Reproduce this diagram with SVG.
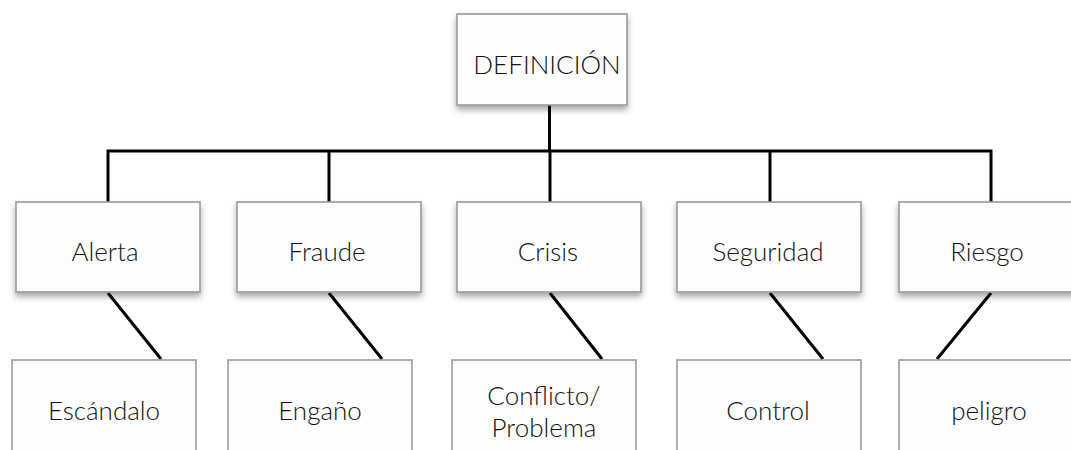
<svg xmlns="http://www.w3.org/2000/svg" width="1071" height="450" viewBox="0 0 1071 450">
<style>
.box{fill:#fdfdfd;stroke:#999;stroke-width:1.6}
.sh{filter:url(#ds)}
.t{font-family:Lato,"Liberation Sans",sans-serif;font-size:26px;font-weight:300;fill:#111;text-anchor:middle}
.c{stroke:#000;stroke-width:3;fill:none;stroke-linecap:square}
</style>
<defs>
<filter id="ds" x="-10%" y="-10%" width="120%" height="130%">
<feDropShadow dx="0" dy="4" stdDeviation="3" flood-color="#000" flood-opacity="0.35"/>
</filter>
</defs>
<g id="connectors">
<path class="c" d="M549.5 106V151M108 151H991M108 151V201M329 151V201M550 151V201M770 151V201M991 151V201"/>
<path class="c" d="M108 293L161 359M329 293L382 359M550 293L602 359M770 293L823 359M991 293L937 359" style="stroke-linecap:butt"/>
</g>
<g id="n-definicion"><rect class="box sh" x="457" y="14" width="170" height="91"/><text class="t" x="547" y="74">DEFINICIÓN</text></g>
<g id="n-alerta"><rect class="box sh" x="16" y="202" width="184" height="90"/><text class="t" x="105" y="261">Alerta</text></g>
<g id="n-fraude"><rect class="box sh" x="237" y="202" width="184" height="90"/><text class="t" x="327" y="261">Fraude</text></g>
<g id="n-crisis"><rect class="box sh" x="457" y="202" width="184" height="90"/><text class="t" x="548" y="261">Crisis</text></g>
<g id="n-seguridad"><rect class="box sh" x="677" y="202" width="184" height="90"/><text class="t" x="768" y="261">Seguridad</text></g>
<g id="n-riesgo"><rect class="box sh" x="899" y="202" width="184" height="90"/><text class="t" x="987" y="261">Riesgo</text></g>
<g id="n-escandalo"><rect class="box" x="12" y="360" width="184" height="100"/><text class="t" x="104" y="420">Escándalo</text></g>
<g id="n-engano"><rect class="box" x="228" y="360" width="184" height="100"/><text class="t" x="320" y="420">Engaño</text></g>
<g id="n-conflicto"><rect class="box" x="452" y="360" width="184" height="100"/><text class="t" x="544" y="405">Conflicto/</text><text class="t" x="544" y="437">Problema</text></g>
<g id="n-control"><rect class="box" x="677" y="360" width="184" height="100"/><text class="t" x="768" y="420">Control</text></g>
<g id="n-peligro"><rect class="box" x="899" y="360" width="184" height="100"/><text class="t" x="989" y="420">peligro</text></g>
</svg>
